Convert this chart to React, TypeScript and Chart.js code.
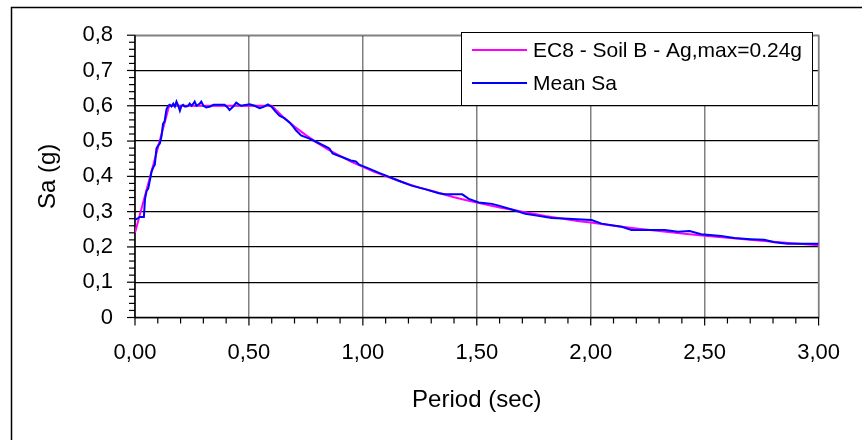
import React, { useEffect, useRef } from 'react';
import { Chart, registerables } from 'chart.js';

Chart.register(...registerables);

// EC8 design spectrum
const ec8Periods = [0, 0.05, 0.1, 0.15, 0.2, 0.3, 0.4, 0.5, 0.6, 0.65, 0.7, 0.75, 0.8, 0.85, 0.9, 0.95, 1.0, 1.05, 1.1, 1.15, 1.2, 1.25, 1.3, 1.35, 1.4, 1.45, 1.5, 1.55, 1.6, 1.65, 1.7, 1.75, 1.8, 1.85, 1.9, 1.95, 2.0, 2.1, 2.2, 2.3, 2.4, 2.5, 2.6, 2.7, 2.8, 2.9, 3.0];
const ec8Values = [0.24, 0.36, 0.48, 0.6, 0.6, 0.6, 0.6, 0.6, 0.6, 0.568, 0.541, 0.517, 0.495, 0.475, 0.458, 0.441, 0.427, 0.413, 0.401, 0.389, 0.378, 0.368, 0.359, 0.35, 0.341, 0.333, 0.326, 0.319, 0.312, 0.306, 0.3, 0.294, 0.288, 0.283, 0.278, 0.273, 0.269, 0.26, 0.252, 0.245, 0.238, 0.232, 0.226, 0.22, 0.215, 0.21, 0.205];

// Mean Sa
const meanPeriods = [0, 0.01, 0.02, 0.039, 0.044, 0.051, 0.058, 0.066, 0.073, 0.08, 0.087, 0.094, 0.102, 0.109, 0.116, 0.123, 0.13, 0.138, 0.146, 0.153, 0.16, 0.168, 0.175, 0.182, 0.19, 0.197, 0.204, 0.211, 0.218, 0.226, 0.233, 0.24, 0.248, 0.255, 0.262, 0.27, 0.277, 0.284, 0.291, 0.3, 0.313, 0.33, 0.345, 0.357, 0.375, 0.393, 0.405, 0.415, 0.43, 0.444, 0.455, 0.466, 0.485, 0.503, 0.525, 0.547, 0.565, 0.583, 0.6, 0.615, 0.634, 0.655, 0.678, 0.695, 0.707, 0.729, 0.745, 0.765, 0.794, 0.838, 0.853, 0.867, 0.89, 0.911, 0.947, 0.969, 0.984, 1.03, 1.071, 1.11, 1.144, 1.18, 1.217, 1.276, 1.334, 1.36, 1.436, 1.465, 1.509, 1.567, 1.596, 1.654, 1.713, 1.77, 1.829, 1.902, 1.96, 2.004, 2.048, 2.136, 2.179, 2.325, 2.383, 2.434, 2.485, 2.572, 2.631, 2.7, 2.762, 2.806, 2.864, 3.0];
const meanValues = [0.277, 0.28, 0.285, 0.285, 0.336, 0.359, 0.365, 0.391, 0.414, 0.425, 0.433, 0.479, 0.488, 0.493, 0.512, 0.549, 0.556, 0.59, 0.6, 0.603, 0.598, 0.606, 0.598, 0.612, 0.6, 0.586, 0.6, 0.603, 0.598, 0.598, 0.6, 0.606, 0.6, 0.605, 0.612, 0.6, 0.603, 0.606, 0.612, 0.6, 0.595, 0.598, 0.603, 0.603, 0.603, 0.603, 0.596, 0.588, 0.597, 0.609, 0.604, 0.6, 0.602, 0.604, 0.6, 0.593, 0.597, 0.604, 0.597, 0.585, 0.572, 0.565, 0.553, 0.54, 0.53, 0.516, 0.512, 0.507, 0.498, 0.484, 0.479, 0.465, 0.459, 0.454, 0.445, 0.442, 0.433, 0.421, 0.41, 0.4, 0.391, 0.382, 0.373, 0.363, 0.352, 0.349, 0.349, 0.336, 0.326, 0.322, 0.317, 0.306, 0.294, 0.288, 0.282, 0.28, 0.278, 0.276, 0.266, 0.257, 0.248, 0.248, 0.243, 0.245, 0.236, 0.231, 0.225, 0.222, 0.22, 0.213, 0.209, 0.209];

const seriesLabels = ['EC8 - Soil B - Ag,max=0.24g', 'Mean Sa'];
const seriesColors = ['#FF00FF', '#0000FF'];
const xTitle = 'Period (sec)';
const yTitle = 'Sa (g)';

const FONT = '"Liberation Sans", Arial, Helvetica, sans-serif';

export default function App() {
  const ref = useRef<HTMLCanvasElement>(null);

  useEffect(() => {
    const canvas = ref.current;
    if (!canvas) return;

    const decor = {
      id: 'decor',
      beforeDatasetsDraw(chart: any) {
        const ctx = chart.ctx;
        const { left, right, top, bottom } = chart.chartArea;
        const xs = chart.scales.x;
        const ys = chart.scales.y;
        ctx.save();
        // plot border (gray)
        ctx.strokeStyle = '#808080';
        ctx.lineWidth = 1.5;
        ctx.beginPath();
        ctx.moveTo(left, top);
        ctx.lineTo(right, top);
        ctx.lineTo(right, bottom);
        ctx.stroke();
        // axes
        ctx.strokeStyle = '#000';
        ctx.lineWidth = 1.5;
        ctx.beginPath();
        ctx.moveTo(left, top);
        ctx.lineTo(left, bottom);
        ctx.lineTo(right, bottom);
        ctx.stroke();
        // y ticks every 0.02
        ctx.lineWidth = 1.2;
        for (let i = 0; i <= 40; i++) {
          const y = ys.getPixelForValue(i * 0.02);
          const len = i % 5 === 0 ? 8 : 6;
          ctx.beginPath();
          ctx.moveTo(left - len, y);
          ctx.lineTo(left, y);
          ctx.stroke();
        }
        // x ticks every 0.1
        for (let i = 0; i <= 30; i++) {
          const x = xs.getPixelForValue(i * 0.1);
          const len = i % 5 === 0 ? 8 : 6;
          ctx.beginPath();
          ctx.moveTo(x, bottom);
          ctx.lineTo(x, bottom + len);
          ctx.stroke();
        }
        // outer frame
        ctx.lineWidth = 1.5;
        ctx.strokeRect(11.5, 7.5, 1000, 600);
        ctx.restore();
      },
      afterDraw(chart: any) {
        const ctx = chart.ctx;
        ctx.save();
        const bx = 461.5, by = 32.5, bw = 351, bh = 73;
        ctx.fillStyle = '#fff';
        ctx.fillRect(bx, by, bw, bh);
        ctx.strokeStyle = '#000';
        ctx.lineWidth = 1;
        ctx.strokeRect(bx, by, bw, bh);
        ctx.font = `21px ${FONT}`;
        ctx.textBaseline = 'middle';
        ctx.textAlign = 'left';
        chart.data.datasets.forEach((ds: any, i: number) => {
          const y = 50 + i * 33;
          ctx.strokeStyle = ds.borderColor;
          ctx.lineWidth = 2;
          ctx.beginPath();
          ctx.moveTo(472, y);
          ctx.lineTo(527, y);
          ctx.stroke();
          ctx.fillStyle = '#000';
          ctx.fillText(ds.label, 533, y + 1);
        });
        ctx.restore();
      },
    };

    const chart = new Chart(canvas, {
      type: 'line',
      data: {
        datasets: [
          {
            label: seriesLabels[0],
            data: ec8Periods.map((p, i) => ({ x: p, y: ec8Values[i] })),
            borderColor: seriesColors[0],
            backgroundColor: seriesColors[0],
            borderWidth: 2,
            pointRadius: 0,
            tension: 0,
            order: 1,
          },
          {
            label: seriesLabels[1],
            data: meanPeriods.map((p, i) => ({ x: p, y: meanValues[i] })),
            borderColor: seriesColors[1],
            backgroundColor: seriesColors[1],
            borderWidth: 2,
            pointRadius: 0,
            tension: 0,
            order: 0,
          },
        ],
      },
      options: {
        animation: false,
        responsive: false,
        maintainAspectRatio: false,
        layout: { padding: { left: 0, top: 29.5, right: 41, bottom: 0 } },
        plugins: { legend: { display: false }, tooltip: { enabled: false } },
        scales: {
          x: {
            type: 'linear',
            min: 0,
            max: 3,
            afterFit: (s: any) => { s.height = 122.5; },
            ticks: {
              stepSize: 0.5,
              padding: 22,
              color: '#000',
              font: { family: FONT, size: 22 },
              callback: (v: any) => Number(v).toFixed(2).replace('.', ','),
            },
            grid: { color: '#808080', lineWidth: 1.5, drawTicks: false },
            border: { display: false },
            title: {
              display: true,
              text: xTitle,
              color: '#000',
              font: { family: FONT, size: 24 },
              padding: { top: 0, bottom: 25.6 },
            },
          },
          y: {
            type: 'linear',
            min: 0,
            max: 0.8,
            afterFit: (s: any) => { s.width = 135; },
            ticks: {
              stepSize: 0.1,
              padding: 22,
              color: '#000',
              font: { family: FONT, size: 22 },
              callback: (v: any) => (Number(v) === 0 ? '0' : Number(v).toFixed(1).replace('.', ',')),
            },
            grid: { color: '#000', lineWidth: 1.2, drawTicks: false },
            border: { display: false },
            title: {
              display: true,
              text: yTitle,
              color: '#000',
              font: { family: FONT, size: 24 },
              padding: { top: 33.6, bottom: 0 },
            },
          },
        },
      },
      plugins: [decor],
    });

    return () => chart.destroy();
  }, []);

  return (
    <div style={{ position: 'absolute', left: 0, top: 0, width: 862, height: 440, background: '#fff' }}>
      <canvas ref={ref} width={862} height={440} style={{ width: 862, height: 440, display: 'block' }} />
    </div>
  );
}
